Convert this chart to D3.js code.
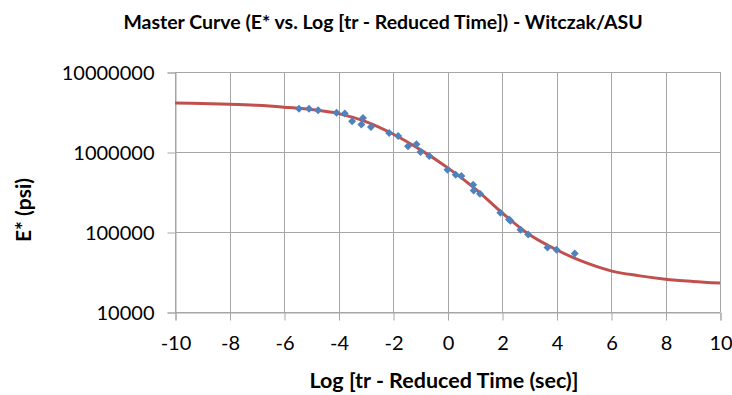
<!DOCTYPE html>
<html lang="en">
<head>
  <meta charset="UTF-8">
  <title>Master Curve - Witczak/ASU</title>
  <script src="https://d3js.org/d3.v7.min.js"></script>
  <style>
    body { margin: 0; background: #fff; }
    text { font-family: Lato, "Open Sans", sans-serif; fill: #000; }
  </style>
</head>
<body>
  <svg width="732" height="395"></svg>

  <script>
    // measured points (log reduced time, E* psi)
    const pointX = [-5.45, -5.08, -4.75, -4.07, -3.77, -3.50, -3.10, -3.16, -2.81, -2.14, -1.81,
      -1.45, -1.14, -0.99, -0.67, 0.00, 0.30, 0.51, 0.94, 0.96, 1.19,
      1.94, 2.26, 2.31, 2.68, 2.96, 3.67, 4.00, 4.67];
    const pointE = [3.48e6, 3.48e6, 3.33e6, 3.10e6, 3.02e6, 2.42e6, 2.66e6, 2.20e6, 2.05e6, 1.73e6, 1.59e6,
      1.18e6, 1.25e6, 1.00e6, 8.9e5, 6.0e5, 5.2e5, 5.0e5, 3.9e5, 3.3e5, 3.0e5,
      1.74e5, 1.43e5, 1.38e5, 1.07e5, 9.3e4, 6.4e4, 6.0e4, 5.4e4];

    const curveX = [-10, -9, -8, -7, -6, -5, -4, -3, -2, -1, 0, 1, 2, 3, 4, 5, 6, 7, 8, 9, 10];
    const curveE = [4.10e6, 4.05e6, 3.96e6, 3.83e6, 3.63e6, 3.39e6, 3.02e6, 2.40e6, 1.68e6, 1.07e6, 6.38e5,
      3.51e5, 1.74e5, 9.3e4, 6.0e4, 4.22e4, 3.27e4, 2.85e4, 2.57e4, 2.41e4, 2.30e4];

    const xTicks = [-10, -8, -6, -4, -2, 0, 2, 4, 6, 8, 10];
    const yTicks = [1e4, 1e5, 1e6, 1e7];

    const title = "Master Curve (E* vs. Log [tr - Reduced Time]) - Witczak/ASU";
    const xTitle = "Log [tr - Reduced Time (sec)]";
    const yTitle = "E* (psi)";

    const svg = d3.select("svg");
    const plotLeft = 175, plotRight = 720, plotTop = 72, plotBottom = 312;

    const x = d3.scaleLinear().domain([-10, 10]).range([plotLeft, plotRight]);
    const y = d3.scaleLog().domain([1e4, 1e7]).range([plotBottom, plotTop]);

    const gridColor = "#a6a6a6";
    // plain hyphen minus like the spreadsheet labels
    const plain = d => String(d);

    // gridlines
    const grid = svg.append("g");
    grid.selectAll("line.v")
      .data(xTicks)
      .join("line")
      .attr("class", "v")
      .attr("x1", d => Math.round(x(d)) + 0.5)
      .attr("x2", d => Math.round(x(d)) + 0.5)
      .attr("y1", plotTop)
      .attr("y2", plotBottom)
      .attr("stroke", gridColor);
    grid.selectAll("line.h")
      .data(yTicks)
      .join("line")
      .attr("class", "h")
      .attr("x1", plotLeft)
      .attr("x2", plotRight)
      .attr("y1", d => Math.round(y(d)) + 0.5)
      .attr("y2", d => Math.round(y(d)) + 0.5)
      .attr("stroke", gridColor);

    // axes
    const xAxis = svg.append("g")
      .attr("transform", `translate(0.5,${plotBottom + 0.5})`)
      .call(d3.axisBottom(x).tickValues(xTicks).tickSize(8).tickPadding(15).tickFormat(plain));
    const yAxis = svg.append("g")
      .attr("transform", `translate(${plotLeft + 0.5},0.5)`)
      .call(d3.axisLeft(y).tickValues(yTicks).tickSize(8).tickPadding(13).tickFormat(plain));

    [xAxis, yAxis].forEach(g => {
      g.select(".domain").attr("stroke", gridColor);
      g.selectAll(".tick line").attr("stroke", gridColor);
      g.selectAll(".tick text")
        .attr("font-size", 20)
        .attr("font-family", "Lato, sans-serif")
        .attr("fill", "#000");
    });
    xAxis.selectAll(".tick text").attr("dy", "0.71em");
    yAxis.selectAll(".tick text").attr("dy", "0.35em");

    // fitted curve
    const line = d3.line()
      .x(d => x(d[0]))
      .y(d => y(d[1]))
      .curve(d3.curveCatmullRom);
    svg.append("path")
      .datum(curveX.map((v, i) => [v, curveE[i]]))
      .attr("d", line)
      .attr("fill", "none")
      .attr("stroke", "#c0504d")
      .attr("stroke-width", 3);

    // measured points
    const diamond = d3.symbol().type(d3.symbolSquare).size(32);
    svg.append("g")
      .selectAll("path")
      .data(pointX.map((v, i) => [v, pointE[i]]))
      .join("path")
      .attr("d", diamond)
      .attr("transform", d => `translate(${x(d[0])},${y(d[1])}) rotate(45)`)
      .attr("fill", "#4f81bd");

    // titles
    svg.append("text")
      .attr("x", 383)
      .attr("y", 29)
      .attr("text-anchor", "middle")
      .attr("font-weight", "bold")
      .attr("font-size", 19.5)
      .text(title);

    svg.append("text")
      .attr("x", 444)
      .attr("y", 388)
      .attr("text-anchor", "middle")
      .attr("font-weight", "bold")
      .attr("font-size", 21.5)
      .text(xTitle);

    svg.append("text")
      .attr("transform", "translate(31,210) rotate(-90)")
      .attr("text-anchor", "middle")
      .attr("font-weight", "bold")
      .attr("font-size", 21)
      .text(yTitle);
  </script>
</body>
</html>
